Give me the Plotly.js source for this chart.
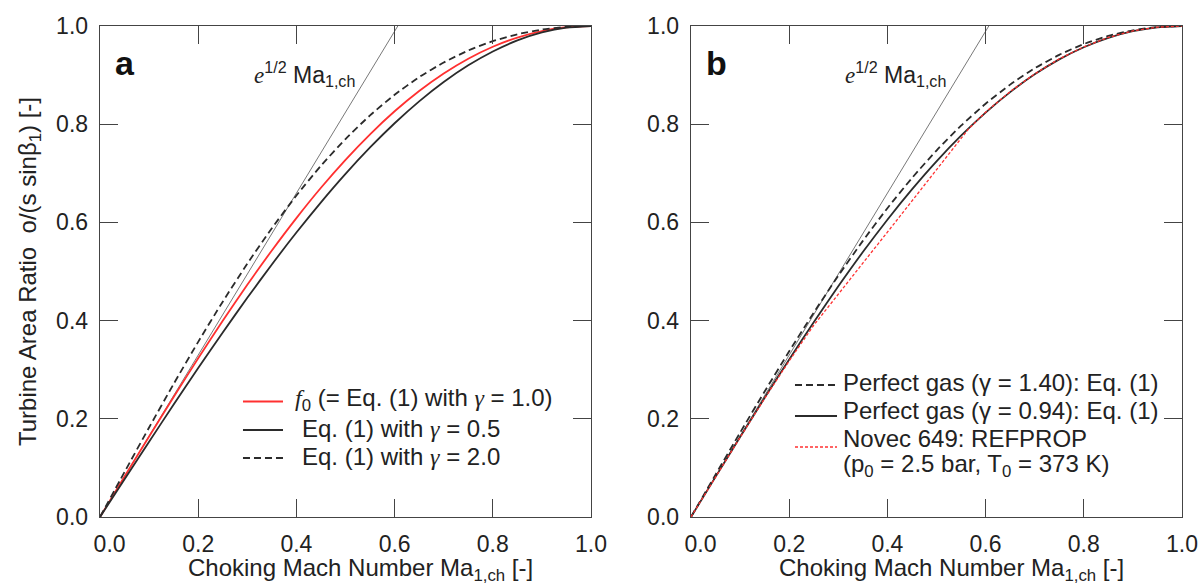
<!DOCTYPE html>
<html>
<head>
<meta charset="utf-8">
<script src="https://cdn.plot.ly/plotly-3.0.1.min.js"></script>
<style>body{margin:0;background:#fff}</style>
</head>
<body>
<div id="chart" style="width:1204px;height:585px"></div>
<script>
// Choking Mach number grid
const machGrid = [0,0.05,0.1,0.15,0.2,0.25,0.3,0.35,0.4,0.45,0.5,0.55,0.6,0.65,0.7,0.75,0.8,0.85,0.9,0.95,1.0];
// Panel a
const f0Ratio   = [0,0.0823,0.1641,0.2445,0.3232,0.3995,0.4729,0.5428,0.6088,0.6705,0.7275,0.7795,0.8263,0.8676,0.9033,0.9334,0.9578,0.9765,0.9897,0.9975,1.0];
const gamma05   = [0,0.0769,0.1534,0.2290,0.3033,0.3759,0.4464,0.5143,0.5793,0.6409,0.6988,0.7526,0.8019,0.8465,0.8859,0.9199,0.9482,0.9706,0.9868,0.9967,1.0];
const gamma20   = [0,0.0917,0.1823,0.2710,0.3567,0.4386,0.5159,0.5881,0.6547,0.7154,0.7698,0.8180,0.8599,0.8958,0.9257,0.9501,0.9691,0.9832,0.9928,0.9983,1.0];
// Panel b
const gamma140  = [0,0.0863,0.1718,0.2557,0.3374,0.4162,0.4914,0.5624,0.6289,0.6903,0.7464,0.7969,0.8416,0.8806,0.9138,0.9413,0.9632,0.9798,0.9912,0.9979,1.0];
const gamma094  = [0,0.0817,0.1628,0.2428,0.3210,0.3968,0.4699,0.5396,0.6055,0.6672,0.7244,0.7766,0.8237,0.8654,0.9015,0.9320,0.9568,0.9759,0.9894,0.9973,1.0];
const novecMach = [0,0.05,0.1,0.15,0.2,0.25,0.3,0.35,0.4,0.45,0.5,0.55,0.565,0.6,0.65,0.7,0.75,0.8,0.85,0.9,0.95,1.0];
const novecRatio= [0,0.0815,0.1620,0.2415,0.3180,0.3905,0.4550,0.5170,0.5800,0.6440,0.7070,0.7700,0.7900,0.8245,0.8665,0.9025,0.9330,0.9576,0.9766,0.9900,0.9976,1.0];
// Tangent e^{1/2} Ma
const tangentMach  = [0, 0.6065];
const tangentRatio = [0, 1.0];
// Ticks
const tickValues = [0,0.2,0.4,0.6,0.8,1.0];
const xTickLabels = ['\u00a0\u00a0\u00a00.0','0.2','0.4','0.6','0.8','1.0'];
const yTickLabels = ['0.0','0.2','0.4','0.6','0.8','1.0'];

const FONT = 'Liberation Sans, Arial, sans-serif';
const DARK = '#2b2b2b';
const RED = '#ff3030';
const TXT = '#222';
const serif = s => '<span style="font-family:Liberation Serif">' + s + '</span>';

// Series styles
const styleF0   = {color:RED,  width:1.8};
const styleG05  = {color:DARK, width:1.8};
const styleG20  = {color:DARK, width:1.8, dash:'7px,4px'};
const styleG140 = {color:DARK, width:1.8, dash:'7px,4px'};
const styleG094 = {color:DARK, width:1.8};
const styleNov  = {color:RED,  width:1.3, dash:'3px,2px'};

const nameF0   = serif('<i>f</i>') + '<sub>0</sub> (= Eq. (1) with ' + serif('<i>γ</i>') + ' = 1.0)';
const nameG05  = 'Eq. (1) with ' + serif('<i>γ</i>') + ' = 0.5';
const nameG20  = 'Eq. (1) with ' + serif('<i>γ</i>') + ' = 2.0';
const nameG140 = 'Perfect gas (γ = 1.40): Eq. (1)';
const nameG094 = 'Perfect gas (γ = 0.94): Eq. (1)';
const nameNov1 = 'Novec 649: REFPROP';
const nameNov2 = '(p<sub>0</sub> = 2.5 bar, T<sub>0</sub> = 373 K)';
const xTitleText = 'Choking Mach Number Ma<sub>1,ch</sub> [-]';
const yTitleText = 'Turbine Area Ratio\u00a0 o/(s sinβ<sub>1</sub>) [-]';

const sp = {shape:'spline', smoothing:0.6};
const traces = [
  {x: tangentMach, y: tangentRatio, xaxis:'x', yaxis:'y', mode:'lines', line:{color:'#555', width:0.8}, name:'e^1/2 Ma'},
  {x: machGrid, y: f0Ratio, xaxis:'x', yaxis:'y', mode:'lines', line:Object.assign({}, styleF0, sp), name:nameF0},
  {x: machGrid, y: gamma05, xaxis:'x', yaxis:'y', mode:'lines', line:Object.assign({}, styleG05, sp), name:nameG05},
  {x: machGrid, y: gamma20, xaxis:'x', yaxis:'y', mode:'lines', line:Object.assign({}, styleG20, sp), name:nameG20},
  {x: tangentMach, y: tangentRatio, xaxis:'x2', yaxis:'y2', mode:'lines', line:{color:'#555', width:0.8}, name:'e^1/2 Ma'},
  {x: machGrid, y: gamma140, xaxis:'x2', yaxis:'y2', mode:'lines', line:Object.assign({}, styleG140, sp), name:nameG140},
  {x: machGrid, y: gamma094, xaxis:'x2', yaxis:'y2', mode:'lines', line:Object.assign({}, styleG094, sp), name:nameG094},
  {x: novecMach, y: novecRatio, xaxis:'x2', yaxis:'y2', mode:'lines', line:styleNov, name:nameNov1}
];

const axisBase = {
  range:[0,1], tickvals: tickValues, tickmode:'array',
  ticks:'inside', ticklen:18, tickwidth:1.2, tickcolor:'#444',
  showline:true, linecolor:'#444', linewidth:1.3, mirror:'ticks',
  showgrid:false, zeroline:false,
  tickfont:{family:FONT, size:23, color:TXT}
};

// Legend (drawn as key lines + labels inside each panel)
function keyLine(ax, x0, x1, y, st) {
  return {type:'line', xref:ax[0] + ' domain', yref:ax[1] + ' domain', x0:x0, x1:x1, y0:y, y1:y,
          line:{color:st.color, width:st.width, dash:st.dash || 'solid'}};
}
function keyText(ax, x, y, txt) {
  return {xref:ax[0] + ' domain', yref:ax[1] + ' domain', x:x, y:y, xanchor:'left', yanchor:'middle',
          showarrow:false, text:txt, font:{family:FONT, size:24, color:TXT}};
}
function xTitleNote(ax) {
  return {xref:ax + ' domain', yref:'paper', x:0.53, y:-0.106, xanchor:'center', yanchor:'middle',
          showarrow:false, text:xTitleText, font:{family:FONT, size:24, color:TXT}};
}
const A = ['x','y'], B = ['x2','y2'];
const shapes = [
  keyLine(A, 0.2912, 0.3727, 0.2352, styleF0),
  keyLine(A, 0.2912, 0.3727, 0.1772, styleG05),
  keyLine(A, 0.2912, 0.3727, 0.1202, styleG20),
  keyLine(B, 0.2118, 0.2974, 0.2688, styleG140),
  keyLine(B, 0.2118, 0.2974, 0.2057, styleG094),
  keyLine(B, 0.2118, 0.2974, 0.1426, styleNov)
];

const annotations = [
  keyText(A, 0.3931, 0.2383, nameF0),
  keyText(A, 0.4073, 0.1802, nameG05),
  keyText(A, 0.4073, 0.1242, nameG20),
  keyText(B, 0.3055, 0.2749, nameG140),
  keyText(B, 0.3055, 0.2179, nameG094),
  keyText(B, 0.3055, 0.1589, nameNov1),
  keyText(B, 0.3055, 0.1039, nameNov2),
  xTitleNote('x'),
  xTitleNote('x2'),
  {xref:'x domain', yref:'y domain', x:0.027, y:0.925, xanchor:'left', yanchor:'middle', showarrow:false,
   text:'<b>a</b>', font:{family:FONT, size:34, color:'#111'}},
  {xref:'x2 domain', yref:'y2 domain', x:0.027, y:0.925, xanchor:'left', yanchor:'middle', showarrow:false,
   text:'<b>b</b>', font:{family:FONT, size:34, color:'#111'}},
  {xref:'x domain', yref:'y domain', x:0.31, y:0.902, xanchor:'left', yanchor:'middle', showarrow:false,
   text: serif('<i>e</i>') + '<sup>1/2</sup> Ma<sub>1,ch</sub>', font:{family:FONT, size:23, color:TXT}},
  {xref:'x2 domain', yref:'y2 domain', x:0.31, y:0.902, xanchor:'left', yanchor:'middle', showarrow:false,
   text: serif('<i>e</i>') + '<sup>1/2</sup> Ma<sub>1,ch</sub>', font:{family:FONT, size:23, color:TXT}}
];

const layout = {
  width:1204, height:585,
  margin:{l:100, r:22, t:26, b:68},
  paper_bgcolor:'#fff', plot_bgcolor:'#fff',
  font:{family:FONT, size:23, color:TXT},
  showlegend:false,
  xaxis: Object.assign({}, axisBase, {domain:[0,0.4538], anchor:'y', ticktext:xTickLabels, ticklabelstandoff:6}),
  yaxis: Object.assign({}, axisBase, {domain:[0,1], anchor:'x', ticktext:yTickLabels, ticklabelstandoff:6,
    title:{text:yTitleText, font:{family:FONT, size:24, color:TXT}, standoff:12}}),
  xaxis2: Object.assign({}, axisBase, {domain:[0.5462,1], anchor:'y2', ticktext:xTickLabels, ticklabelstandoff:6}),
  yaxis2: Object.assign({}, axisBase, {domain:[0,1], anchor:'x2', ticktext:yTickLabels, ticklabelstandoff:6}),
  shapes: shapes,
  annotations: annotations
};

Plotly.newPlot('chart', traces, layout, {displayModeBar:false, staticPlot:true});
</script>
</body>
</html>
